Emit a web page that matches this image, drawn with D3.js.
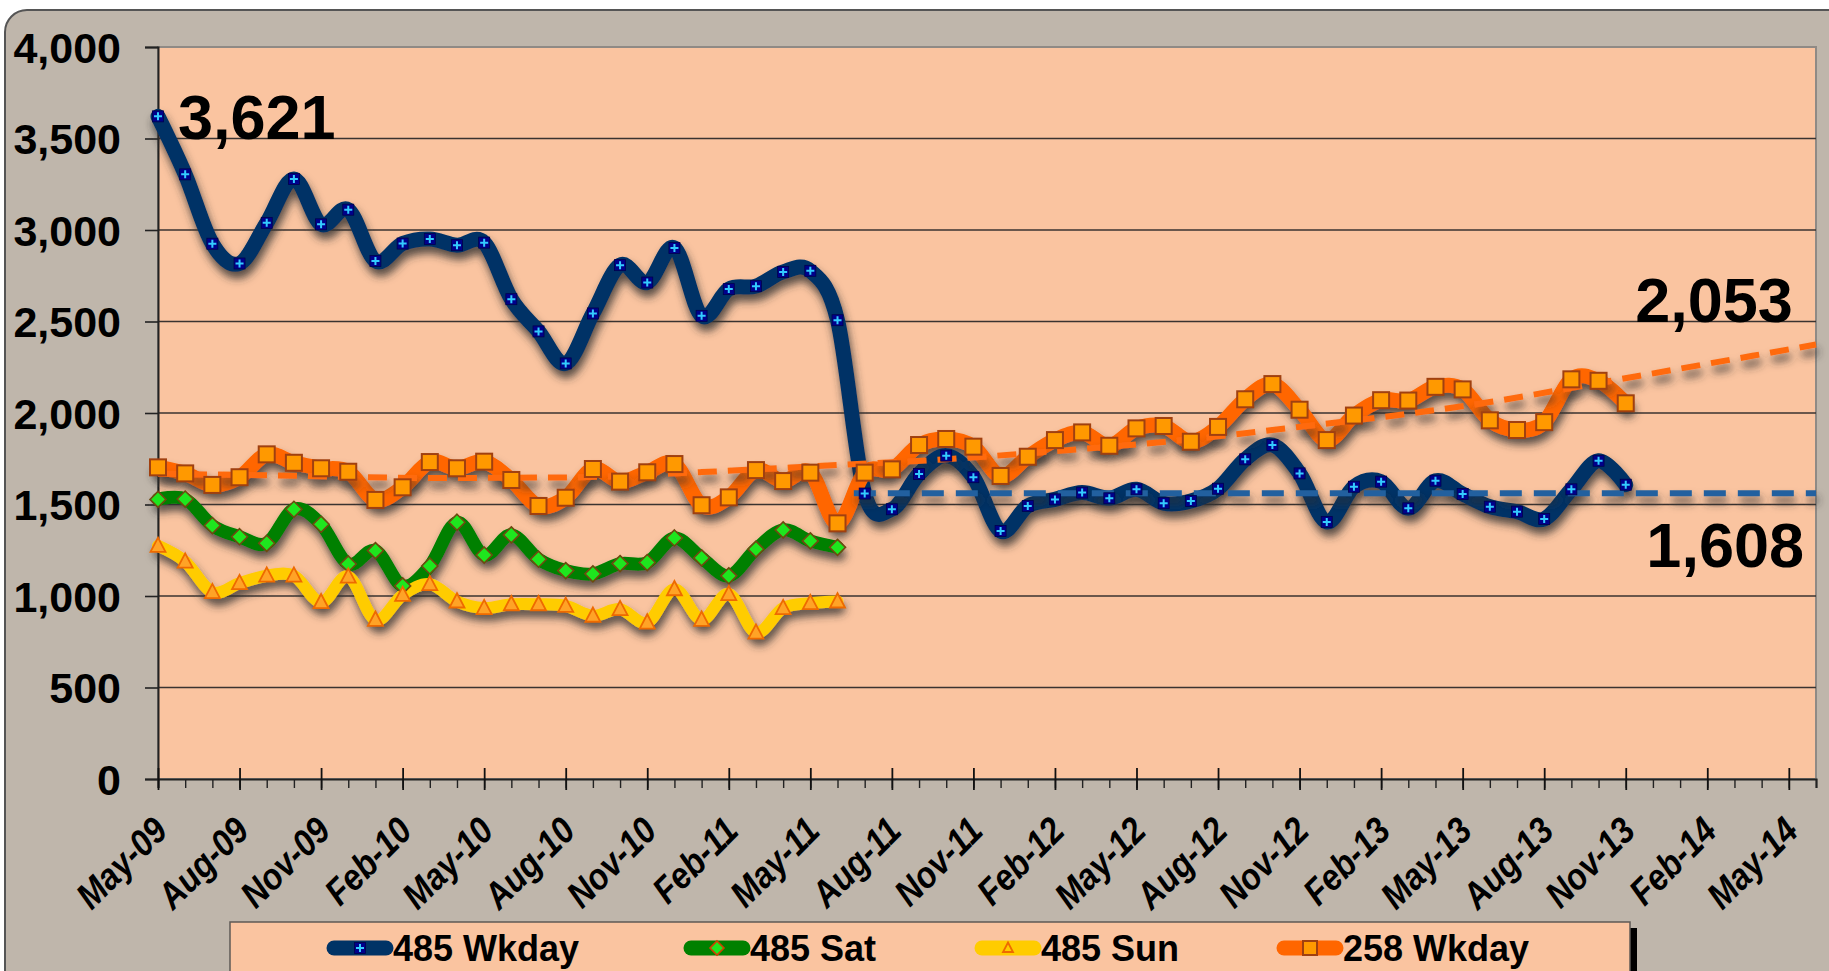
<!DOCTYPE html>
<html>
<head>
<meta charset="utf-8">
<script src="https://cdn.jsdelivr.net/npm/d3@7"></script>
<style>
  body { margin: 0; background: #fff; }
  svg { display: block; font-family: "Liberation Sans", Arial, sans-serif; }
</style>
</head>
<body>
<svg id="chart" width="1829" height="971"></svg>
<script>
// month index 0 = May-09
var xLabels = ['May-09', 'Aug-09', 'Nov-09', 'Feb-10', 'May-10', 'Aug-10', 'Nov-10', 'Feb-11',
    'May-11', 'Aug-11', 'Nov-11', 'Feb-12', 'May-12', 'Aug-12', 'Nov-12', 'Feb-13', 'May-13',
    'Aug-13', 'Nov-13', 'Feb-14', 'May-14'];
var yTicks = [0, 500, 1000, 1500, 2000, 2500, 3000, 3500, 4000];

var wkday485 = [3621, 3304, 2925, 2817, 3039, 3279, 3031, 3111, 2831, 2926, 2951, 2917, 2931,
    2622, 2446, 2271, 2544, 2808, 2713, 2902, 2531, 2677, 2693, 2771, 2777, 2507, 1560, 1474,
    1667, 1767, 1649, 1355, 1492, 1528, 1565, 1534, 1583, 1507, 1519, 1586, 1747, 1825, 1670,
    1405, 1597, 1625, 1479, 1630, 1557, 1488, 1461, 1421, 1583, 1739, 1608];
var sat485 = [1528, 1530, 1385, 1324, 1288, 1474, 1392, 1175, 1248, 1055, 1164, 1403, 1224,
    1334, 1201, 1139, 1121, 1177, 1183, 1317, 1208, 1110, 1256, 1361, 1301, 1266];
var sun485 = [1274, 1188, 1021, 1070, 1111, 1111, 966, 1106, 870, 1006, 1065, 970, 934, 955,
    955, 946, 892, 928, 855, 1037, 870, 1010, 800, 934, 961, 970];
var wkday258 = [1703, 1670, 1607, 1649, 1774, 1728, 1698, 1679, 1525, 1594, 1732, 1698, 1734,
    1634, 1492, 1537, 1694, 1625, 1676, 1721, 1496, 1539, 1688, 1628, 1674, 1397, 1674, 1692,
    1825, 1858, 1816, 1656, 1761, 1852, 1894, 1821, 1916, 1929, 1843, 1924, 2075, 2158, 2018,
    1852, 1986, 2070, 2068, 2143, 2129, 1960, 1907, 1950, 2184, 2176, 2053];

// trend lines
var trend258Months = [0, 4, 10, 15, 20, 25, 29, 32, 38, 41, 49, 53, 61];
var trend258Values = [1668, 1660, 1645, 1648, 1677, 1716, 1747, 1780, 1857, 1907, 2060, 2164, 2374];
var trend485Months = [25.6, 61];
var trend485Values = [1562, 1562];

var svg = d3.select('#chart');
var x = d3.scaleLinear().domain([0, 61]).range([158, 1816]);
var y = d3.scaleLinear().domain([0, 4000]).range([779, 47]);

// drop shadow
var defs = svg.append('defs');
var f = defs.append('filter').attr('id', 'shadow')
    .attr('filterUnits', 'userSpaceOnUse')
    .attr('x', 0).attr('y', 0).attr('width', 1829).attr('height', 971);
f.append('feDropShadow').attr('dx', 2).attr('dy', 7).attr('stdDeviation', 4)
    .attr('flood-color', '#333').attr('flood-opacity', 0.8);

// outer frame
svg.append('rect').attr('x', 5).attr('y', 10).attr('width', 1900).attr('height', 1100)
    .attr('rx', 22).attr('fill', '#bfb6ab').attr('stroke', '#555').attr('stroke-width', 2);

// plot area
svg.append('rect').attr('x', x(0)).attr('y', y(4000))
    .attr('width', x(61) - x(0)).attr('height', y(0) - y(4000))
    .attr('fill', '#fac4a0').attr('stroke', '#8f8a85').attr('stroke-width', 2);

// gridlines
svg.append('g').selectAll('line').data(yTicks.filter(d => d > 0 && d < 4000)).enter()
    .append('line')
    .attr('x1', x(0)).attr('x2', x(61))
    .attr('y1', d => y(d)).attr('y2', d => y(d))
    .attr('stroke', '#3a3330').attr('stroke-width', 1.6);

// y axis
var yAxis = svg.append('g').attr('transform', 'translate(' + x(0) + ',0)')
    .call(d3.axisLeft(y).tickValues(yTicks).tickSize(13).tickPadding(24).tickFormat(d3.format(',')));
yAxis.select('.domain').attr('stroke', '#222').attr('stroke-width', 2);
yAxis.selectAll('.tick line').attr('stroke', '#222').attr('stroke-width', 1.6);
yAxis.selectAll('.tick text').attr('font-size', 43).attr('font-weight', 'bold')
    .attr('fill', '#000').attr('dy', '0.36em');

// x axis: minor ticks every month, major every quarter
var xMinor = svg.append('g').attr('transform', 'translate(0,' + y(0) + ')')
    .call(d3.axisBottom(x).tickValues(d3.range(0, 62)).tickSize(9).tickFormat(''));
xMinor.select('.domain').attr('stroke', '#222').attr('stroke-width', 2);
xMinor.selectAll('.tick line').attr('stroke', '#222').attr('stroke-width', 1.4);

var xMajor = svg.append('g').attr('transform', 'translate(0,' + y(0) + ')')
    .call(d3.axisBottom(x).tickValues(xLabels.map((d, i) => i * 3)).tickSize(11)
        .tickFormat((d, i) => xLabels[i]));
xMajor.select('.domain').remove();
xMajor.selectAll('.tick line').attr('y1', -11).attr('stroke', '#111').attr('stroke-width', 1.8);
xMajor.selectAll('.tick text')
    .attr('font-size', 37).attr('font-weight', 'bold').attr('font-style', 'italic')
    .attr('fill', '#000').attr('text-anchor', 'end')
    .attr('y', 0).attr('dy', 0)
    .attr('transform', 'translate(11,54) rotate(-45) scale(0.88,1)');

// series
var smooth = d3.line()
    .x(d => x(d[0])).y(d => y(d[1]))
    .curve(d3.curveCardinal.tension(0));

function pairs(values) { return values.map((v, i) => [i, v]); }

var series = [
    { name: '485 Wkday', data: wkday485, stroke: '#003366', width: 15, marker: 'plus' },
    { name: '485 Sat', data: sat485, stroke: '#008000', width: 13, marker: 'diamond' },
    { name: '485 Sun', data: sun485, stroke: '#ffcc00', width: 12, marker: 'triangle' },
    { name: '258 Wkday', data: wkday258, stroke: '#ff6600', width: 15, marker: 'square' }
];

function drawMarker(g, type, cx, cy, legend) {
    if (type === 'plus') {
        g.append('rect').attr('x', cx - 5.5).attr('y', cy - 5.5).attr('width', 11).attr('height', 11)
            .attr('fill', '#00008b').attr('stroke', '#00004d').attr('stroke-width', 0.8);
        g.append('path').attr('d', 'M' + (cx - 4) + ',' + cy + 'H' + (cx + 4) + 'M' + cx + ',' + (cy - 4) + 'V' + (cy + 4))
            .attr('stroke', '#33ccff').attr('stroke-width', 2);
    } else if (type === 'diamond') {
        var r = legend ? 7 : 8;
        g.append('path').attr('d', 'M' + cx + ',' + (cy - r) + 'L' + (cx + r) + ',' + cy + 'L' + cx + ',' + (cy + r) + 'L' + (cx - r) + ',' + cy + 'Z')
            .attr('fill', '#1ee61e').attr('stroke', legend ? '#d04000' : '#6e4a10').attr('stroke-width', 1.6);
    } else if (type === 'triangle') {
        var s = legend ? 5 : 7.5;
        g.append('path').attr('d', 'M' + cx + ',' + (cy - s * 1.1) + 'L' + (cx + s) + ',' + (cy + s * 0.8) + 'L' + (cx - s) + ',' + (cy + s * 0.8) + 'Z')
            .attr('fill', legend ? 'none' : '#ffa326').attr('stroke', '#ee6a00').attr('stroke-width', 1.8);
    } else {
        var h = legend ? 7 : 8;
        g.append('rect').attr('x', cx - h).attr('y', cy - h).attr('width', 2 * h).attr('height', 2 * h)
            .attr('fill', '#ff9900').attr('stroke', '#a04010').attr('stroke-width', 2);
    }
}

var linesG = svg.append('g').attr('filter', 'url(#shadow)');
series.forEach(s => {
    linesG.append('path').datum(pairs(s.data))
        .attr('d', smooth).attr('fill', 'none')
        .attr('stroke', s.stroke).attr('stroke-width', s.width)
        .attr('stroke-linejoin', 'round').attr('stroke-linecap', 'round');
});

// trend lines
var trendLine = d3.line().x(d => x(d[0])).y(d => y(d[1])).curve(d3.curveMonotoneX);
var trendG = svg.append('g').attr('filter', 'url(#shadow)');
trendG.append('path')
    .datum(trend258Months.map((m, i) => [m, trend258Values[i]]))
    .attr('d', trendLine).attr('fill', 'none')
    .attr('stroke', '#ff6a10').attr('stroke-width', 6).attr('stroke-dasharray', '19,11');
trendG.append('path')
    .datum(trend485Months.map((m, i) => [m, trend485Values[i]]))
    .attr('d', trendLine).attr('fill', 'none')
    .attr('stroke', '#21619f').attr('stroke-width', 6).attr('stroke-dasharray', '22,12');

// markers
series.forEach(s => {
    var g = svg.append('g');
    s.data.forEach((v, i) => drawMarker(g, s.marker, x(i), y(v), false));
});

// value labels
function bigLabel(txt, px, py, anchor) {
    svg.append('text').attr('x', px).attr('y', py).attr('text-anchor', anchor)
        .attr('font-size', 63).attr('font-weight', 'bold').attr('fill', '#000').text(txt);
}
bigLabel(d3.format(',')(wkday485[0]), x(0) + 20, y(wkday485[0]) + 23, 'start');
bigLabel(d3.format(',')(wkday258[54]), x(60) + 4, 322, 'end');
bigLabel(d3.format(',')(wkday485[54]), x(61) - 12, 567, 'end');

// legend
var legendG = svg.append('g');
legendG.append('rect').attr('x', 1630).attr('y', 928).attr('width', 7).attr('height', 60).attr('fill', '#000');
legendG.append('rect').attr('x', 230).attr('y', 922).attr('width', 1400).attr('height', 80)
    .attr('fill', '#fac4a0').attr('stroke', '#5f5a55').attr('stroke-width', 1.5);
var legendX = [327, 684, 975, 1277];
series.forEach((s, i) => {
    var lx = legendX[i], ly = 948;
    var g = legendG.append('g');
    g.append('line').attr('x1', lx + 7).attr('x2', lx + 59).attr('y1', ly).attr('y2', ly)
        .attr('stroke', s.stroke).attr('stroke-width', 15).attr('stroke-linecap', 'round');
    drawMarker(g, s.marker, lx + 33, ly, true);
    g.append('text').attr('x', lx + 66).attr('y', ly).attr('dy', '0.36em')
        .attr('font-size', 36).attr('font-weight', 'bold').attr('fill', '#000').text(s.name);
});
</script>
</body>
</html>
